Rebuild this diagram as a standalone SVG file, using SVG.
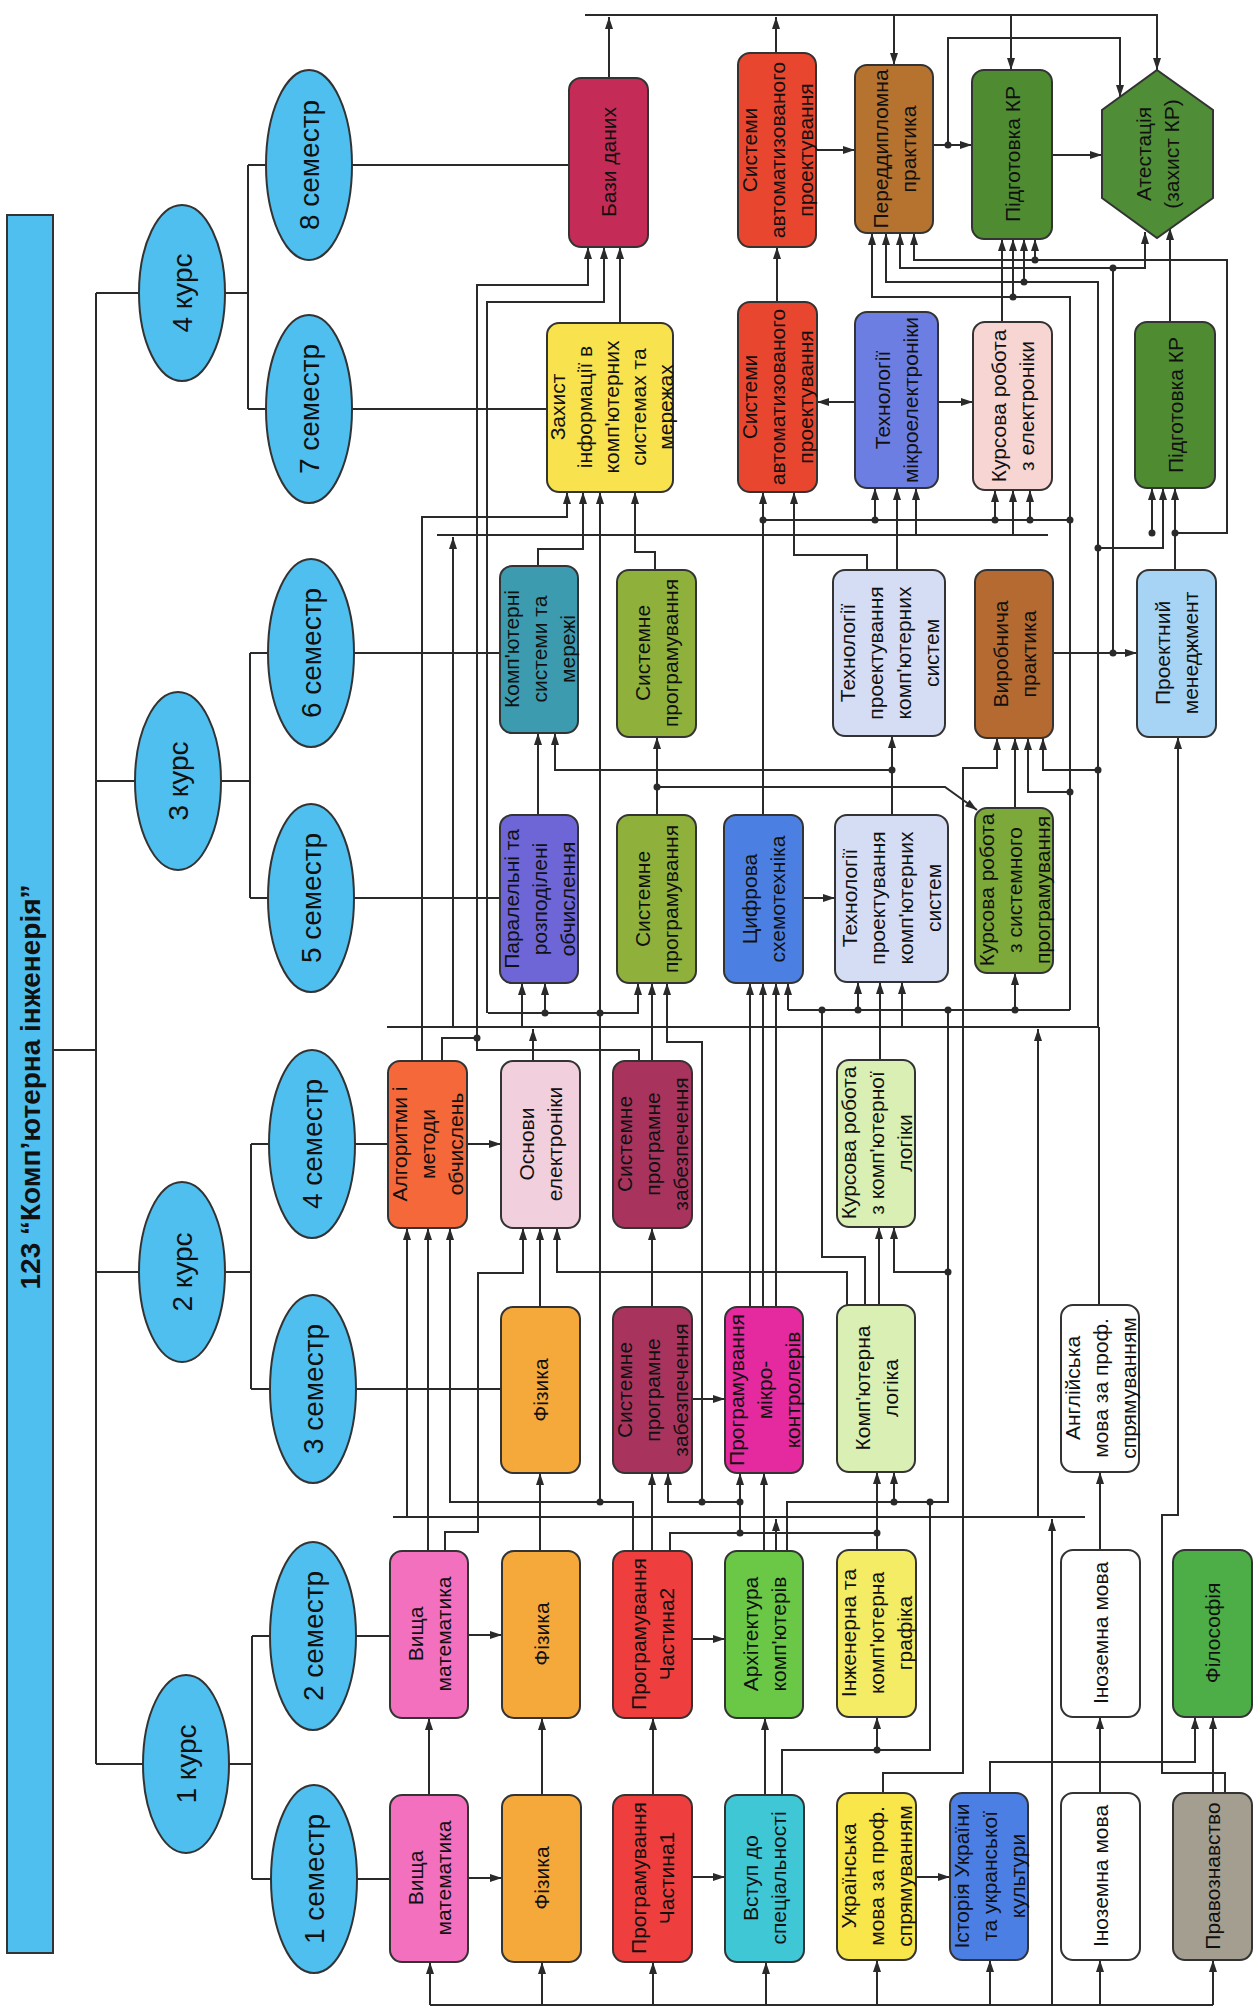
<svg xmlns="http://www.w3.org/2000/svg" width="1257" height="2011" viewBox="0 0 1257 2011">
<defs>
<marker id="ah" viewBox="0 0 12 10" refX="12" refY="5" markerWidth="12" markerHeight="10" markerUnits="userSpaceOnUse" orient="auto"><path d="M0,1 L12,5 L0,9 z" fill="#2a2a2a"/></marker>
<style>
.n{stroke:#333;stroke-width:2}
.e{fill:#4EBFEF;stroke:#333;stroke-width:2}
.t{font-family:"Liberation Sans",Arial,sans-serif;font-size:21px;fill:#111;text-anchor:middle}
.et{font-family:"Liberation Sans",Arial,sans-serif;font-size:28px;fill:#111;text-anchor:middle}
.c{fill:none;stroke:#2a2a2a;stroke-width:2}
.a{fill:none;stroke:#2a2a2a;stroke-width:2;marker-end:url(#ah)}
.d{fill:#2a2a2a}
</style>
</defs>
<rect width="1257" height="2011" fill="#fff"/>
<g id="connectors">
<path class="c" d="M53,1050 H96 M96,293 V1764 M96,293 H140 M96,781 H135 M96,1272 H140 M96,1764 H143"/>
<path class="c" d="M225,293 H248 M248,165 V409 M248,165 H266 M248,409 H266"/>
<path class="c" d="M221,781 H250 M250,653 V898 M250,653 H268 M250,898 H268"/>
<path class="c" d="M225,1272 H251 M251,1144 V1389 M251,1144 H269 M251,1389 H270"/>
<path class="c" d="M229,1764 H252 M252,1636 V1879 M252,1636 H270 M252,1879 H271"/>
<path class="c" d="M352,165 H569 M352,409 H547 M354,653 H500 M354,898 H500 M355,1144 H388 M356,1389 H501 M356,1636 H390 M357,1879 H390"/>
<path class="c" d="M430,2005 H1213 M393,1517 H1085 M387,1027 H1099 M437,535 H1048"/>
<path class="a" d="M430,2005 V1962"/><path class="a" d="M542,2005 V1962"/><path class="a" d="M653,2005 V1962"/><path class="a" d="M766,2005 V1962"/><path class="a" d="M877,2005 V1960"/><path class="a" d="M990,2005 V1960"/><path class="a" d="M1100,2005 V1960"/><path class="a" d="M1213,2005 V1960"/>
<path class="a" d="M1052,2005 V1519"/>
<path class="a" d="M1038,1517 V1029"/>
<path class="a" d="M407,1517 V1228"/>
<path class="a" d="M776,1551 V1519"/>
<path class="a" d="M453,1027 V537"/>
<path class="a" d="M533,1061 V1029"/>
<path class="c" d="M1099,1305 V1027"/>
<path class="a" d="M1098,1027 V282 H886 V233"/>
<path class="a" d="M522,1027 V983"/>
<path class="a" d="M902,1027 V982"/>
<path class="a" d="M916,535 V488"/>
<path class="a" d="M1013,535 V490"/>
<!-- sem1/2 -->
<path class="a" d="M429,1795 V1718"/><path class="a" d="M542,1795 V1718"/><path class="a" d="M653,1795 V1718"/><path class="a" d="M765,1795 V1718"/>
<path class="a" d="M1100,1793 V1717"/><path class="a" d="M1213,1793 V1717"/>
<path class="a" d="M468,1878 H502"/><path class="a" d="M692,1877 H725"/><path class="a" d="M916,1877 H950"/>
<path class="a" d="M468,1635 H502"/><path class="a" d="M692,1639 H725"/>
<path class="c" d="M782,1795 V1750 H930 V1502"/>
<path class="a" d="M877,1750 V1717"/>
<path class="c" d="M787,1551 V1502 H948 V1010"/>
<path class="a" d="M894,1502 V1472"/>
<path class="a" d="M948,1272 H894 V1227"/>
<path class="a" d="M883,1793 V1773 H963 V768 H997 V738"/>
<path class="a" d="M990,1793 V1762 H1195 V1717"/>
<path class="a" d="M1225,1793 V1773 H1162 V1515 H1178 V737"/>
<path class="a" d="M1100,1550 V1472"/>
<!-- sem2 tops -->
<path class="a" d="M428,1551 V1228"/>
<path class="a" d="M445,1551 V1532 H478 V1273 H523 V1228"/>
<path class="a" d="M540,1551 V1473"/>
<path class="a" d="M652,1551 V1473"/>
<path class="a" d="M633,1551 V1502 H450 V1228"/>
<path class="a" d="M600,1502 V492"/>
<path class="c" d="M670,1551 V1533 H877"/>
<path class="a" d="M877,1550 V1472"/>
<path class="a" d="M740,1533 V1473"/>
<path class="a" d="M740,1502 H668 V1473"/>
<path class="a" d="M702,1502 V1042 H667 V983"/>
<path class="a" d="M764,1551 V1473"/>
<!-- sem3/4 -->
<path class="a" d="M540,1307 V1228"/>
<path class="a" d="M652,1307 V1228"/>
<path class="a" d="M692,1399 H725"/>
<path class="a" d="M750,1307 V983"/><path class="a" d="M763,1307 V983"/><path class="a" d="M776,1307 V983"/>
<path class="a" d="M847,1305 V1272 H557 V1228"/>
<path class="c" d="M865,1305 V1257 H822 V1010"/>
<path class="a" d="M879,1305 V1227"/>
<path class="a" d="M880,1060 V982"/>
<path class="c" d="M788,1010 H1070"/>
<path class="a" d="M788,1010 V983"/>
<path class="a" d="M858,1010 V982"/>
<path class="a" d="M1015,1010 V973"/>
<path class="a" d="M1070,1010 V297 H872 V233"/>
<path class="a" d="M1070,792 H1028 V738"/>
<path class="a" d="M1013,297 V239"/>
<path class="a" d="M1098,770 H1043 V738"/>
<path class="a" d="M1098,548 H1163 V488"/>
<path class="a" d="M1024,282 V239"/>
<path class="a" d="M467,1144 H501"/>
<path class="a" d="M422,1061 V517 H567 V492"/>
<path class="c" d="M442,1061 V1038 H477"/>
<path class="a" d="M639,1061 V1050 H477 V285 H588 V247"/>
<path class="a" d="M652,1061 V983"/>
<path class="a" d="M488,1013 H638 V983"/>
<path class="a" d="M487,1013 V302 H604 V247"/>
<path class="a" d="M545,1013 V983"/>
<!-- sem5/6 -->
<path class="a" d="M538,815 V733"/>
<path class="a" d="M892,770 H555 V733"/>
<path class="a" d="M657,815 V737"/>
<path class="a" d="M657,787 H945 L977,810"/>
<path class="a" d="M803,898 H835"/>
<path class="a" d="M892,815 V736"/>
<path class="a" d="M1015,808 V738"/>
<path class="a" d="M1053,653 H1137"/>
<path class="a" d="M1113,653 V268 H900 V233"/>
<path class="a" d="M1113,268 H1145 V232"/>
<path class="a" d="M763,815 V492"/>
<path class="c" d="M763,520 H1070"/>
<path class="a" d="M875,520 V488"/>
<path class="a" d="M995,520 V490"/>
<path class="a" d="M1030,520 V490"/>
<path class="a" d="M867,570 V555 H794 V492"/>
<path class="a" d="M897,570 V488"/>
<path class="a" d="M538,566 V549 H583 V492"/>
<path class="a" d="M655,570 V552 H635 V492"/>
<path class="a" d="M1175,570 V488"/>
<path class="a" d="M1175,533 H1227 V260 H914 V233"/>
<path class="a" d="M1152,533 V488"/>
<path class="a" d="M1035,260 V239"/>
<path class="a" d="M1170,322 V228"/>
<!-- sem7/8 -->
<path class="a" d="M585,15 H1157 V70"/>
<path class="a" d="M609,78 V17"/><path class="a" d="M776,53 V17"/>
<path class="a" d="M894,15 V65"/><path class="a" d="M1011,15 V70"/>
<path class="a" d="M816,150 H855"/><path class="a" d="M933,145 H972"/><path class="a" d="M1052,155 H1102"/>
<path class="a" d="M948,145 V38 H1120 V97"/>
<path class="a" d="M777,302 V247"/><path class="a" d="M855,402 H817"/><path class="a" d="M938,402 H973"/>
<path class="a" d="M1002,322 V239"/><path class="a" d="M620,323 V247"/>
<g class="d">
<circle cx="948" cy="145" r="3.5"/><circle cx="1035" cy="260" r="3.5"/><circle cx="1113" cy="268" r="3.5"/><circle cx="1113" cy="653" r="3.5"/><circle cx="1175" cy="533" r="3.5"/><circle cx="1152" cy="533" r="3.5"/><circle cx="877" cy="1750" r="3.5"/><circle cx="657" cy="787" r="3.5"/><circle cx="892" cy="770" r="3.5"/><circle cx="1070" cy="792" r="3.5"/><circle cx="1098" cy="770" r="3.5"/><circle cx="1098" cy="548" r="3.5"/><circle cx="1015" cy="1010" r="3.5"/><circle cx="948" cy="1010" r="3.5"/><circle cx="858" cy="1010" r="3.5"/><circle cx="822" cy="1010" r="3.5"/><circle cx="948" cy="1272" r="3.5"/><circle cx="763" cy="520" r="3.5"/><circle cx="875" cy="520" r="3.5"/><circle cx="995" cy="520" r="3.5"/><circle cx="1030" cy="520" r="3.5"/><circle cx="1070" cy="520" r="3.5"/><circle cx="1013" cy="297" r="3.5"/><circle cx="1024" cy="282" r="3.5"/><circle cx="600" cy="1502" r="3.5"/><circle cx="600" cy="1013" r="3.5"/><circle cx="545" cy="1013" r="3.5"/><circle cx="477" cy="1038" r="3.5"/><circle cx="894" cy="1502" r="3.5"/><circle cx="930" cy="1502" r="3.5"/><circle cx="877" cy="1533" r="3.5"/><circle cx="740" cy="1533" r="3.5"/><circle cx="740" cy="1502" r="3.5"/><circle cx="702" cy="1502" r="3.5"/>
</g>
</g>
<g id="title"><rect x="7" y="215" width="46" height="1738" fill="#4EBFEF" class="n"/><text transform="translate(30,1087) rotate(-90)" text-anchor="middle" y="10" style="font-family:'Liberation Sans',Arial,sans-serif;font-size:28px;font-weight:bold;fill:#111">123 “Комп’ютерна інженерія”</text></g>
<g id="k4"><ellipse class="e" cx="182" cy="293" rx="43" ry="88"/><text class="et" transform="translate(182,293) rotate(-90)" y="10">4 курс</text></g>
<g id="k3"><ellipse class="e" cx="178" cy="781" rx="43" ry="89"/><text class="et" transform="translate(178,781) rotate(-90)" y="10">3 курс</text></g>
<g id="k2"><ellipse class="e" cx="182" cy="1272" rx="43" ry="90"/><text class="et" transform="translate(182,1272) rotate(-90)" y="10">2 курс</text></g>
<g id="k1"><ellipse class="e" cx="186" cy="1764" rx="43" ry="89"/><text class="et" transform="translate(186,1764) rotate(-90)" y="10">1 курс</text></g>
<g id="s8"><ellipse class="e" cx="309" cy="165" rx="43" ry="95"/><text class="et" transform="translate(309,165) rotate(-90)" y="10">8 семестр</text></g>
<g id="s7"><ellipse class="e" cx="309" cy="409" rx="43" ry="94"/><text class="et" transform="translate(309,409) rotate(-90)" y="10">7 семестр</text></g>
<g id="s6"><ellipse class="e" cx="311" cy="653" rx="43" ry="94"/><text class="et" transform="translate(311,653) rotate(-90)" y="10">6 семестр</text></g>
<g id="s5"><ellipse class="e" cx="311" cy="898" rx="43" ry="94"/><text class="et" transform="translate(311,898) rotate(-90)" y="10">5 семестр</text></g>
<g id="s4"><ellipse class="e" cx="312" cy="1144" rx="43" ry="94"/><text class="et" transform="translate(312,1144) rotate(-90)" y="10">4 семестр</text></g>
<g id="s3"><ellipse class="e" cx="313" cy="1389" rx="43" ry="94"/><text class="et" transform="translate(313,1389) rotate(-90)" y="10">3 семестр</text></g>
<g id="s2"><ellipse class="e" cx="313" cy="1636" rx="43" ry="94"/><text class="et" transform="translate(313,1636) rotate(-90)" y="10">2 семестр</text></g>
<g id="s1"><ellipse class="e" cx="314" cy="1879" rx="43" ry="94"/><text class="et" transform="translate(314,1879) rotate(-90)" y="10">1 семестр</text></g>
<g id="vm1"><rect class="n" x="390" y="1795" width="78" height="167" rx="12" fill="#F270BE"/><text class="t" transform="translate(429,1878) rotate(-90)"><tspan x="0" y="-6">Вища</tspan><tspan x="0" y="22">математика</tspan></text></g>
<g id="fiz1"><rect class="n" x="502" y="1795" width="79" height="167" rx="12" fill="#F6A93B"/><text class="t" transform="translate(541,1878) rotate(-90)" y="8">Фізика</text></g>
<g id="prog1"><rect class="n" x="613" y="1795" width="79" height="167" rx="12" fill="#EE3E3E"/><text class="t" transform="translate(652,1878) rotate(-90)"><tspan x="0" y="-6">Програмування</tspan><tspan x="0" y="22">Частина1</tspan></text></g>
<g id="vstup"><rect class="n" x="725" y="1795" width="79" height="167" rx="12" fill="#3FC7D6"/><text class="t" transform="translate(764,1878) rotate(-90)"><tspan x="0" y="-6">Вступ до</tspan><tspan x="0" y="22">спеціальності</tspan></text></g>
<g id="ukr"><rect class="n" x="837" y="1793" width="79" height="167" rx="12" fill="#F8E64A"/><text class="t" transform="translate(876,1876) rotate(-90)"><tspan x="0" y="-20">Українська</tspan><tspan x="0" y="8">мова за проф.</tspan><tspan x="0" y="36">спрямуванням</tspan></text></g>
<g id="hist"><rect class="n" x="950" y="1793" width="78" height="167" rx="12" fill="#4C7FE3"/><text class="t" transform="translate(989,1876) rotate(-90)"><tspan x="0" y="-20">Історія України</tspan><tspan x="0" y="8">та укранської</tspan><tspan x="0" y="36">культури</tspan></text></g>
<g id="inoz1"><rect class="n" x="1061" y="1793" width="79" height="167" rx="12" fill="#fff"/><text class="t" transform="translate(1100,1876) rotate(-90)" y="8">Іноземна мова</text></g>
<g id="pravo"><rect class="n" x="1173" y="1793" width="79" height="167" rx="12" fill="#A39E90"/><text class="t" transform="translate(1212,1876) rotate(-90)" y="8">Правознавство</text></g>
<g id="vm2"><rect class="n" x="390" y="1551" width="78" height="167" rx="12" fill="#F270BE"/><text class="t" transform="translate(429,1634) rotate(-90)"><tspan x="0" y="-6">Вища</tspan><tspan x="0" y="22">математика</tspan></text></g>
<g id="fiz2"><rect class="n" x="502" y="1551" width="78" height="167" rx="12" fill="#F6A93B"/><text class="t" transform="translate(541,1634) rotate(-90)" y="8">Фізика</text></g>
<g id="prog2"><rect class="n" x="613" y="1551" width="79" height="167" rx="12" fill="#EE3E3E"/><text class="t" transform="translate(652,1634) rotate(-90)"><tspan x="0" y="-6">Програмування</tspan><tspan x="0" y="22">Частина2</tspan></text></g>
<g id="arch"><rect class="n" x="725" y="1551" width="78" height="167" rx="12" fill="#6BC847"/><text class="t" transform="translate(764,1634) rotate(-90)"><tspan x="0" y="-6">Архітектура</tspan><tspan x="0" y="22">комп'ютерів</tspan></text></g>
<g id="graf"><rect class="n" x="837" y="1550" width="79" height="167" rx="12" fill="#F5EC66"/><text class="t" transform="translate(876,1633) rotate(-90)"><tspan x="0" y="-20">Інженерна та</tspan><tspan x="0" y="8">комп'ютерна</tspan><tspan x="0" y="36">графіка</tspan></text></g>
<g id="inoz2"><rect class="n" x="1061" y="1550" width="79" height="167" rx="12" fill="#fff"/><text class="t" transform="translate(1100,1633) rotate(-90)" y="8">Іноземна мова</text></g>
<g id="filos"><rect class="n" x="1173" y="1550" width="79" height="167" rx="12" fill="#4DAE47"/><text class="t" transform="translate(1212,1633) rotate(-90)" y="8">Філософія</text></g>
<g id="fiz3"><rect class="n" x="501" y="1307" width="79" height="166" rx="12" fill="#F6A93B"/><text class="t" transform="translate(540,1390) rotate(-90)" y="8">Фізика</text></g>
<g id="spz3"><rect class="n" x="613" y="1307" width="79" height="166" rx="12" fill="#A8345E"/><text class="t" transform="translate(652,1390) rotate(-90)"><tspan x="0" y="-20">Системне</tspan><tspan x="0" y="8">програмне</tspan><tspan x="0" y="36">забезпечення</tspan></text></g>
<g id="mk"><rect class="n" x="725" y="1307" width="78" height="166" rx="12" fill="#E42A9E"/><text class="t" transform="translate(764,1390) rotate(-90)"><tspan x="0" y="-20">Програмування</tspan><tspan x="0" y="8">мікро-</tspan><tspan x="0" y="36">контролерів</tspan></text></g>
<g id="kl"><rect class="n" x="837" y="1305" width="78" height="167" rx="12" fill="#D9EFB3"/><text class="t" transform="translate(876,1388) rotate(-90)"><tspan x="0" y="-6">Комп'ютерна</tspan><tspan x="0" y="22">логіка</tspan></text></g>
<g id="angl"><rect class="n" x="1061" y="1305" width="78" height="167" rx="12" fill="#fff"/><text class="t" transform="translate(1100,1388) rotate(-90)"><tspan x="0" y="-20">Англійська</tspan><tspan x="0" y="8">мова за проф.</tspan><tspan x="0" y="36">спрямуванням</tspan></text></g>
<g id="alg"><rect class="n" x="388" y="1061" width="79" height="167" rx="12" fill="#F4683A"/><text class="t" transform="translate(427,1144) rotate(-90)"><tspan x="0" y="-20">Алгоритми і</tspan><tspan x="0" y="8">методи</tspan><tspan x="0" y="36">обчислень</tspan></text></g>
<g id="oe"><rect class="n" x="501" y="1061" width="79" height="167" rx="12" fill="#F2CFDD"/><text class="t" transform="translate(540,1144) rotate(-90)"><tspan x="0" y="-6">Основи</tspan><tspan x="0" y="22">електроніки</tspan></text></g>
<g id="spz4"><rect class="n" x="613" y="1061" width="79" height="167" rx="12" fill="#A8345E"/><text class="t" transform="translate(652,1144) rotate(-90)"><tspan x="0" y="-20">Системне</tspan><tspan x="0" y="8">програмне</tspan><tspan x="0" y="36">забезпечення</tspan></text></g>
<g id="kkl"><rect class="n" x="837" y="1060" width="78" height="167" rx="12" fill="#D9EFB3"/><text class="t" transform="translate(876,1143) rotate(-90)"><tspan x="0" y="-20">Курсова робота</tspan><tspan x="0" y="8">з комп'ютерної</tspan><tspan x="0" y="36">логіки</tspan></text></g>
<g id="par"><rect class="n" x="500" y="815" width="78" height="168" rx="12" fill="#6E66D6"/><text class="t" transform="translate(539,899) rotate(-90)"><tspan x="0" y="-20">Паралельні та</tspan><tspan x="0" y="8">розподілені</tspan><tspan x="0" y="36">обчислення</tspan></text></g>
<g id="sp5"><rect class="n" x="617" y="815" width="79" height="168" rx="12" fill="#8FB13C"/><text class="t" transform="translate(656,899) rotate(-90)"><tspan x="0" y="-6">Системне</tspan><tspan x="0" y="22">програмування</tspan></text></g>
<g id="cs"><rect class="n" x="724" y="815" width="79" height="168" rx="12" fill="#4B80E2"/><text class="t" transform="translate(763,899) rotate(-90)"><tspan x="0" y="-6">Цифрова</tspan><tspan x="0" y="22">схемотехніка</tspan></text></g>
<g id="tp5"><rect class="n" x="835" y="815" width="113" height="167" rx="12" fill="#D5DDF4"/><text class="t" transform="translate(891,898) rotate(-90)"><tspan x="0" y="-34">Технології</tspan><tspan x="0" y="-6">проектування</tspan><tspan x="0" y="22">комп'ютерних</tspan><tspan x="0" y="50">систем</tspan></text></g>
<g id="ksp"><rect class="n" x="975" y="808" width="78" height="165" rx="12" fill="#7DA93B"/><text class="t" transform="translate(1014,890) rotate(-90)"><tspan x="0" y="-20">Курсова робота</tspan><tspan x="0" y="8">з системного</tspan><tspan x="0" y="36">програмування</tspan></text></g>
<g id="ksm"><rect class="n" x="500" y="566" width="78" height="167" rx="12" fill="#3D9BB0"/><text class="t" transform="translate(539,649) rotate(-90)"><tspan x="0" y="-20">Комп'ютерні</tspan><tspan x="0" y="8">системи та</tspan><tspan x="0" y="36">мережі</tspan></text></g>
<g id="sp6"><rect class="n" x="617" y="570" width="79" height="167" rx="12" fill="#8FB13C"/><text class="t" transform="translate(656,653) rotate(-90)"><tspan x="0" y="-6">Системне</tspan><tspan x="0" y="22">програмування</tspan></text></g>
<g id="tp6"><rect class="n" x="833" y="570" width="112" height="166" rx="12" fill="#D5DDF4"/><text class="t" transform="translate(889,653) rotate(-90)"><tspan x="0" y="-34">Технології</tspan><tspan x="0" y="-6">проектування</tspan><tspan x="0" y="22">комп'ютерних</tspan><tspan x="0" y="50">систем</tspan></text></g>
<g id="vp"><rect class="n" x="975" y="570" width="78" height="168" rx="12" fill="#B46A30"/><text class="t" transform="translate(1014,654) rotate(-90)"><tspan x="0" y="-6">Виробнича</tspan><tspan x="0" y="22">практика</tspan></text></g>
<g id="pm"><rect class="n" x="1137" y="570" width="79" height="167" rx="12" fill="#A7D3F4"/><text class="t" transform="translate(1176,653) rotate(-90)"><tspan x="0" y="-6">Проектний</tspan><tspan x="0" y="22">менеджмент</tspan></text></g>
<g id="zahyst"><rect class="n" x="547" y="323" width="126" height="169" rx="12" fill="#F8E24E"/><text class="t" transform="translate(611,407) rotate(-90)"><tspan x="0" y="-46">Захист</tspan><tspan x="0" y="-19">інформації в</tspan><tspan x="0" y="8">комп'ютерних</tspan><tspan x="0" y="35">системах та</tspan><tspan x="0" y="62">мережах</tspan></text></g>
<g id="sap7"><rect class="n" x="738" y="302" width="79" height="190" rx="12" fill="#E9462F"/><text class="t" transform="translate(777,397) rotate(-90)"><tspan x="0" y="-20">Системи</tspan><tspan x="0" y="8">автоматизованого</tspan><tspan x="0" y="36">проектування</tspan></text></g>
<g id="tme"><rect class="n" x="855" y="312" width="83" height="176" rx="12" fill="#6C7EE2"/><text class="t" transform="translate(896,400) rotate(-90)"><tspan x="0" y="-6">Технології</tspan><tspan x="0" y="22">мікроелектроніки</tspan></text></g>
<g id="kre"><rect class="n" x="973" y="322" width="79" height="168" rx="12" fill="#F7D5D3"/><text class="t" transform="translate(1012,406) rotate(-90)"><tspan x="0" y="-6">Курсова робота</tspan><tspan x="0" y="22">з електроніки</tspan></text></g>
<g id="pkr7"><rect class="n" x="1135" y="322" width="80" height="166" rx="12" fill="#4F8C31"/><text class="t" transform="translate(1175,405) rotate(-90)" y="8">Підготовка КР</text></g>
<g id="bd"><rect class="n" x="569" y="78" width="79" height="169" rx="12" fill="#C42C57"/><text class="t" transform="translate(608,162) rotate(-90)" y="8">Бази даних</text></g>
<g id="sap8"><rect class="n" x="738" y="53" width="78" height="194" rx="12" fill="#E9462F"/><text class="t" transform="translate(777,150) rotate(-90)"><tspan x="0" y="-20">Системи</tspan><tspan x="0" y="8">автоматизованого</tspan><tspan x="0" y="36">проектування</tspan></text></g>
<g id="pdp"><rect class="n" x="855" y="65" width="78" height="168" rx="12" fill="#B6722F"/><text class="t" transform="translate(894,149) rotate(-90)"><tspan x="0" y="-6">Переддипломна</tspan><tspan x="0" y="22">практика</tspan></text></g>
<g id="pkr8"><rect class="n" x="972" y="70" width="80" height="169" rx="12" fill="#4F8C31"/><text class="t" transform="translate(1012,154) rotate(-90)" y="8">Підготовка КР</text></g>
<g id="att"><polygon class="n" points="1157,70 1213,110 1213,198 1157,238 1102,198 1102,110" fill="#4F8D36"/><text class="t" transform="translate(1157,154) rotate(-90)"><tspan x="0" y="-6">Атестація</tspan><tspan x="0" y="22">(захист КР)</tspan></text></g>
</svg>
